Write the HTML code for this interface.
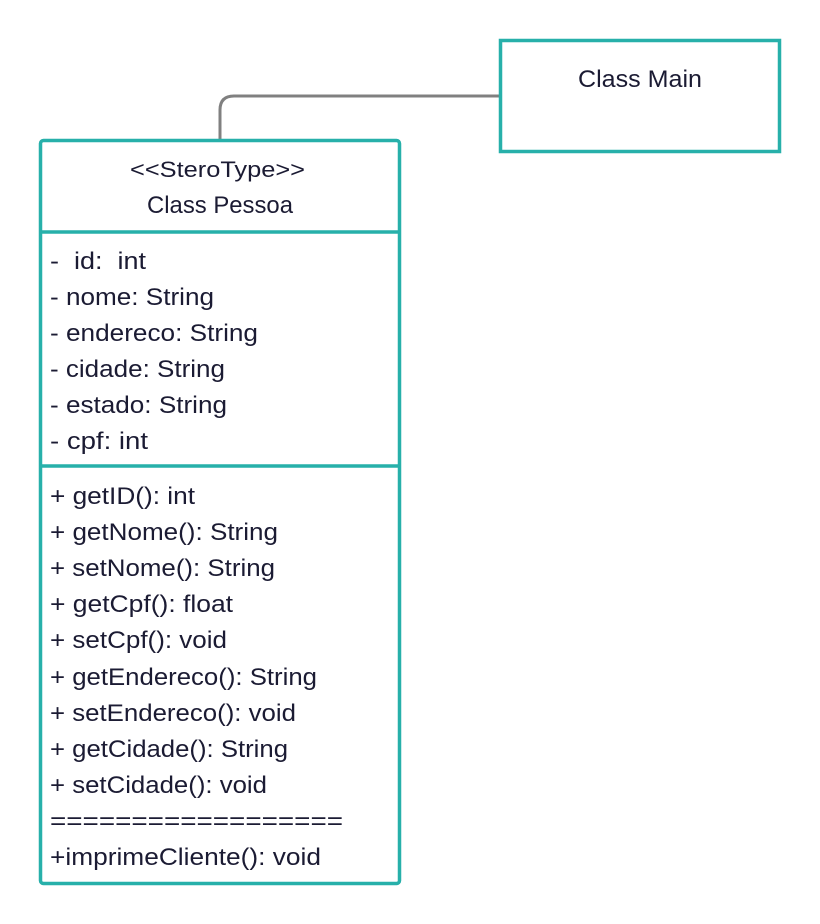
<!DOCTYPE html>
<html><head><meta charset="utf-8"><style>
html,body{margin:0;padding:0;background:#fff;}
svg{display:block}
text{font-family:"Liberation Sans",sans-serif;fill:#1b1b33;font-size:24px;}
</style></head><body>
<svg width="820" height="924" viewBox="0 0 820 924">
<path d="M220 139 V110 Q220 96 234 96 H500" fill="none" stroke="#808080" stroke-width="3"/>
<rect x="500.5" y="40.5" width="279" height="111" fill="#fff" stroke="#27b0aa" stroke-width="3.5"/>
<text x="578" y="87" textLength="124" lengthAdjust="spacingAndGlyphs">Class Main</text>
<rect x="40.5" y="140.5" width="359" height="743" rx="3" fill="#fff" stroke="#27b0aa" stroke-width="3.5"/>
<line x1="40" y1="232" x2="400" y2="232" stroke="#27b0aa" stroke-width="3.5"/>
<line x1="40" y1="466" x2="400" y2="466" stroke="#27b0aa" stroke-width="3.5"/>
<text x="130" y="177" style="font-size:22px" textLength="175" lengthAdjust="spacingAndGlyphs">&lt;&lt;SteroType&gt;&gt;</text>
<text x="147" y="213" textLength="146" lengthAdjust="spacingAndGlyphs">Class Pessoa</text>
<g>
<text x="50" y="269" xml:space="preserve" textLength="96" lengthAdjust="spacingAndGlyphs">-  id:  int</text>
<text x="50" y="305" textLength="164" lengthAdjust="spacingAndGlyphs">- nome: String</text>
<text x="50" y="341" textLength="208" lengthAdjust="spacingAndGlyphs">- endereco: String</text>
<text x="50" y="377" textLength="175" lengthAdjust="spacingAndGlyphs">- cidade: String</text>
<text x="50" y="413" textLength="177" lengthAdjust="spacingAndGlyphs">- estado: String</text>
<text x="50" y="449" textLength="98" lengthAdjust="spacingAndGlyphs">- cpf: int</text>
<text x="50" y="504" textLength="145" lengthAdjust="spacingAndGlyphs">+ getID(): int</text>
<text x="50" y="540" textLength="228" lengthAdjust="spacingAndGlyphs">+ getNome(): String</text>
<text x="50" y="576" textLength="225" lengthAdjust="spacingAndGlyphs">+ setNome(): String</text>
<text x="50" y="612" textLength="183" lengthAdjust="spacingAndGlyphs">+ getCpf(): float</text>
<text x="50" y="648" textLength="177" lengthAdjust="spacingAndGlyphs">+ setCpf(): void</text>
<text x="50" y="685" textLength="267" lengthAdjust="spacingAndGlyphs">+ getEndereco(): String</text>
<text x="50" y="721" textLength="246" lengthAdjust="spacingAndGlyphs">+ setEndereco(): void</text>
<text x="50" y="757" textLength="238" lengthAdjust="spacingAndGlyphs">+ getCidade(): String</text>
<text x="50" y="793" textLength="217" lengthAdjust="spacingAndGlyphs">+ setCidade(): void</text>
<text x="50" y="829" textLength="293" lengthAdjust="spacingAndGlyphs">==================</text>
<text x="50" y="865" textLength="271" lengthAdjust="spacingAndGlyphs">+imprimeCliente(): void</text>
</g>
</svg>
</body></html>
